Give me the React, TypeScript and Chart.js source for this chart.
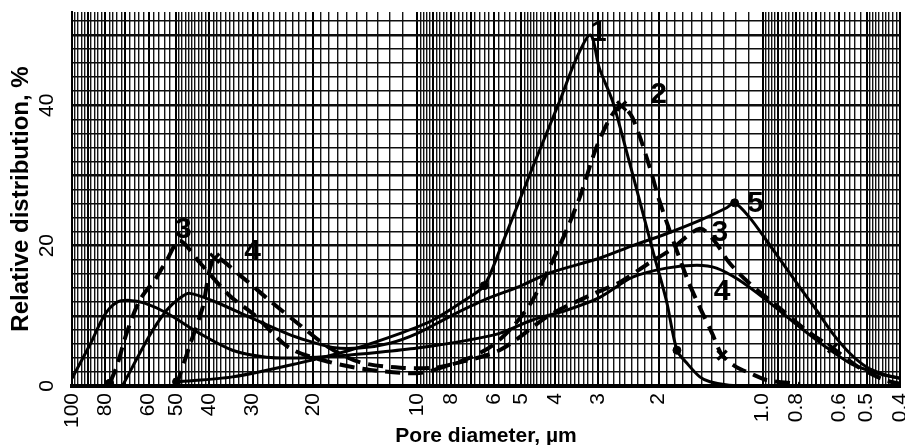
import React, { useEffect, useRef } from 'react';
import { Chart, registerables } from 'chart.js';

Chart.register(...registerables);

// ---- tick labels ----
const xLabelValues = [100, 80, 60, 50, 40, 30, 20, 10, 8, 6, 5, 4, 3, 2, 1, 0.8, 0.6, 0.5, 0.4];
const xLabelText = ['100', '80', '60', '50', '40', '30', '20', '10', '8', '6', '5', '4', '3', '2', '1.0', '0.8', '0.6', '0.5', '0.4'];
const yLabelValues = [0, 20, 40];

// ---- curve 1 (solid, dots) ----
const c1x = [49.8, 34.3, 21.9, 15.7, 11.2, 9.0, 7.2, 6.4, 5.78, 4.64, 3.87, 3.46, 3.15, 2.97, 2.72, 2.48, 2.27, 2.08, 1.9, 1.77, 1.66, 1.52, 1.42, 1.25, 1.0];
const c1y = [0.6, 1.3, 3.3, 5.1, 7.5, 9.4, 12.4, 14.3, 19.3, 31.1, 40.6, 46.7, 50.0, 45.3, 40.6, 33.5, 26.4, 19.3, 12.2, 5.1, 3.3, 1.3, 0.6, 0.1, 0];
const c1Dots = [0, 7, 19];

// ---- curve 2 (dashed) ----
const c2x = [49.8, 45.6, 41.9, 38.6, 32.7, 26.8, 21.9, 17.9, 14.7, 11.2, 8.6, 7.06, 6.05, 5.3, 4.64, 3.87, 3.39, 3.03, 2.74, 2.56, 2.38, 2.12, 1.99, 1.66, 1.52, 1.4, 1.31, 1.19, 1.09, 0.973, 0.78];
const c2y = [0.1, 5.8, 11.1, 18.2, 15.8, 12.2, 8.7, 5.4, 3.4, 2.6, 2.7, 4.0, 5.8, 8.4, 12.2, 20.0, 26.8, 34.0, 38.5, 39.9, 38.2, 31.1, 26.4, 15.5, 11.2, 7.5, 4.4, 2.7, 1.85, 0.85, 0.3];
const c2Crosses = [3, 19, 26];

// ---- curve 3 (dashed) ----
const c3x = [77.8, 74.3, 69.5, 63.7, 56.9, 53.2, 48.8, 42.7, 35.0, 29.6, 23.4, 17.9, 13.7, 9.85, 8.06, 5.78, 4.14, 3.17, 2.59, 2.12, 1.86, 1.52, 1.38, 1.25, 1.09, 0.893, 0.741, 0.627, 0.524, 0.443, 0.4];
const c3y = [0.4, 2.7, 7.5, 12.2, 15.5, 17.9, 20.7, 17.6, 12.9, 10.1, 5.4, 3.4, 2.3, 1.85, 3.0, 5.1, 10.1, 12.9, 14.8, 17.6, 19.3, 22.4, 20.7, 17.6, 14.6, 11.1, 7.8, 5.4, 2.6, 0.85, 0.3];
const c3Dots = [0];
const c3Crosses = [27];

// ---- curve 4 (solid) ----
const c4x = [100, 88.9, 80.5, 74.3, 68.1, 61.6, 53.2, 42.7, 34.3, 27.3, 21.9, 16.8, 12.9, 10.0, 7.19, 5.78, 4.64, 3.7, 2.97, 2.38, 1.9, 1.55, 1.36, 1.17, 0.973, 0.781, 0.653, 0.56, 0.5, 0.449, 0.4];
const c4y = [1.1, 5.8, 10.1, 11.9, 12.2, 11.8, 10.4, 7.5, 5.1, 4.1, 4.0, 4.3, 4.8, 5.4, 6.5, 7.5, 9.4, 10.8, 12.6, 15.5, 16.8, 17.2, 16.8, 15.1, 12.2, 8.4, 5.5, 3.3, 2.3, 1.6, 1.1];

// ---- curve 5 (solid) ----
const c5x = [71.3, 59.6, 53.2, 48.8, 45.6, 38.1, 30.6, 24.5, 21.9, 17.6, 14.7, 12.0, 10.0, 8.06, 6.3, 5.05, 4.14, 2.97, 2.38, 1.9, 1.52, 1.27, 1.205, 1.09, 0.973, 0.875, 0.781, 0.698, 0.627, 0.56, 0.5, 0.449, 0.4];
const c5y = [0.1, 7.2, 10.8, 12.5, 13.2, 11.9, 9.8, 7.7, 6.8, 5.5, 5.4, 6.1, 7.5, 9.9, 12.4, 14.2, 16.1, 18.2, 20.0, 21.7, 23.6, 25.4, 26.1, 24.0, 20.7, 17.5, 14.1, 10.8, 7.5, 4.7, 2.7, 1.7, 1.1];
const c5Dots = [22];

// ---- curve number labels ----
const curveLabelText = ['1', '2', '3', '4', '3', '4', '5'];
const curveLabelX = [2.99, 2.0, 47.6, 30.0, 1.33, 1.31, 1.05];
const curveLabelY = [50.4, 41.5, 22.2, 19.1, 21.9, 13.4, 26.0];

// graph-paper rulings (1–2 by 0.1, 2–5 by 0.1, 5–10 by 0.2 of each decade)
const decades = [0.1, 1, 10];
const xGrid: number[] = [];
decades.forEach((b) => {
  for (let k = 10; k < 100; k += k < 50 ? 1 : 2) {
    const v = Math.round(k * b * 1000) / 10000;
    if (v >= 0.4 - 1e-9 && v <= 100) xGrid.push(v);
  }
});
xGrid.push(100);
const yGrid: number[] = [];
for (let v = 0; v <= 52; v += 2) yGrid.push(v);

const toPts = (xs: number[], ys: number[]) => xs.map((x, i) => ({ x, y: ys[i] }));

const FONT = 'Liberation Sans';

const isMajorX = (v: number) => {
  const e = Math.pow(10, Math.floor(Math.log10(v) + 1e-9));
  const m = v / e;
  return Math.abs(m - Math.round(m)) < 1e-6;
};

function markerOpts(dots: number[], crosses: number[]) {
  return {
    pointRadius: (c: any) => (crosses.includes(c.dataIndex) ? 6.5 : dots.includes(c.dataIndex) ? 4 : 0),
    pointStyle: (c: any) => (crosses.includes(c.dataIndex) ? 'crossRot' : 'circle'),
    pointBorderWidth: (c: any) => (crosses.includes(c.dataIndex) ? 3.2 : 1),
    pointBackgroundColor: '#000',
    pointBorderColor: '#000',
    pointHoverRadius: 0,
  };
}

const labelPlugin = {
  id: 'curveLabels',
  afterDatasetsDraw(chart: any) {
    const { ctx, scales } = chart;
    const xs = scales.x;
    const ys = scales.y;
    ctx.save();
    ctx.font = `bold 30px "${FONT}"`;
    ctx.fillStyle = '#000';
    ctx.textAlign = 'center';
    ctx.textBaseline = 'middle';
    curveLabelText.forEach((t, i) => {
      ctx.fillText(t, xs.getPixelForValue(curveLabelX[i]), ys.getPixelForValue(curveLabelY[i]));
    });
    ctx.restore();
  },
};

export default function App() {
  const ref = useRef<HTMLCanvasElement>(null);
  useEffect(() => {
    document.body.style.margin = '0';
    Chart.defaults.font.family = FONT;
    Chart.defaults.color = '#000';
    const solid = { borderColor: '#000', borderWidth: 3, tension: 0.3, fill: false };
    const dashed = { borderColor: '#000', borderWidth: 4, borderDash: [15, 8], tension: 0.3, fill: false };
    const chart = new Chart(ref.current as HTMLCanvasElement, {
      type: 'line',
      data: {
        datasets: [
          { label: '1', data: toPts(c1x, c1y), ...solid, ...markerOpts(c1Dots, []) },
          { label: '2', data: toPts(c2x, c2y), ...dashed, ...markerOpts([], c2Crosses) },
          { label: '3', data: toPts(c3x, c3y), ...dashed, ...markerOpts(c3Dots, c3Crosses) },
          { label: '4', data: toPts(c4x, c4y), ...solid, ...markerOpts([], []) },
          { label: '5', data: toPts(c5x, c5y), ...solid, ...markerOpts(c5Dots, []) },
        ] as any,
      },
      options: {
        animation: false,
        responsive: false,
        devicePixelRatio: 1,
        events: [],
        layout: { padding: { top: 12, right: 5, left: 0, bottom: 0 } },
        plugins: { legend: { display: false }, tooltip: { enabled: false } },
        scales: {
          x: {
            type: 'logarithmic',
            reverse: true,
            min: 0.4,
            max: 100,
            afterBuildTicks: (s: any) => {
              s.ticks = xGrid.map((v) => ({ value: v }));
            },
            afterFit: (s: any) => {
              s.height = 59;
              s.paddingLeft = 0;
              s.paddingRight = 0;
            },
            ticks: {
              autoSkip: false,
              minRotation: 90,
              maxRotation: 90,
              padding: 7,
              font: { size: 21 },
              color: '#000',
              callback: (value: any) => {
                const i = xLabelValues.findIndex((v) => Math.abs(v / Number(value) - 1) < 1e-6);
                return i >= 0 ? xLabelText[i] : '';
              },
            },
            grid: {
              drawTicks: false,
              color: (c: any) => (c.tick && isMajorX(c.tick.value) ? '#000' : '#141414'),
              lineWidth: (c: any) => (c.tick && isMajorX(c.tick.value) ? 2 : 1.4),
            },
            border: { display: true, color: '#000', width: 4 },
            title: {
              display: true,
              text: 'Pore diameter, µm',
              font: { size: 21, weight: 'bold', lineHeight: 0.85 },
              padding: 0,
              color: '#000',
            },
          },
          y: {
            type: 'linear',
            min: 0,
            max: 53.3,
            afterBuildTicks: (s: any) => {
              s.ticks = yGrid.map((v) => ({ value: v }));
            },
            afterFit: (s: any) => {
              s.width = 72;
              s.paddingTop = 0;
              s.paddingBottom = 0;
            },
            ticks: {
              autoSkip: false,
              minRotation: 90,
              maxRotation: 90,
              crossAlign: 'center',
              padding: 13,
              font: { size: 21 },
              color: '#000',
              callback: (value: any) => (yLabelValues.includes(Number(value)) ? String(value) : ''),
            },
            grid: {
              drawTicks: false,
              color: '#0d0d0d',
              lineWidth: (c: any) => (c.tick && c.tick.value % 10 === 0 ? 2.6 : 1.6),
            },
            border: { display: true, color: '#000', width: 2 },
            title: {
              display: true,
              text: 'Relative distribution, %',
              font: { size: 24, weight: 'bold' },
              padding: { top: 7, bottom: 0 },
              color: '#000',
            },
          },
        },
      } as any,
      plugins: [labelPlugin],
    });
    return () => chart.destroy();
  }, []);
  return (
    <div style={{ position: 'absolute', left: 0, top: 0, width: 905, height: 445, background: '#fff' }}>
      <canvas ref={ref} width={905} height={445} style={{ display: 'block', width: 905, height: 445 }} />
    </div>
  );
}
